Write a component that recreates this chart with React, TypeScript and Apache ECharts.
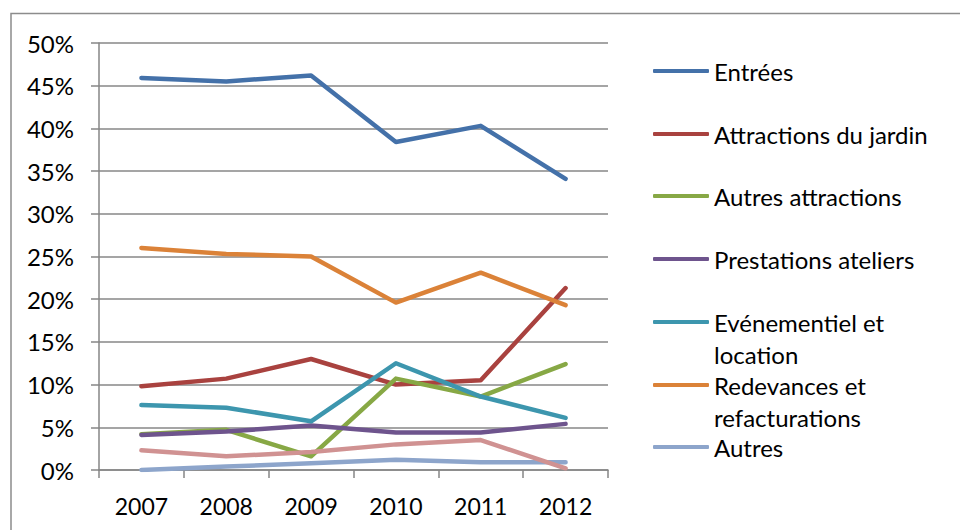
import React, { useEffect, useRef } from "react";
import * as echarts from "echarts";

const years = ["2007", "2008", "2009", "2010", "2011", "2012"];
const entrees = [45.9, 45.5, 46.2, 38.4, 40.3, 34.1];
const attractionsJardin = [9.8, 10.7, 13.0, 10.0, 10.5, 21.3];
const autresAttractions = [4.2, 4.7, 1.6, 10.7, 8.6, 12.4];
const prestationsAteliers = [4.1, 4.5, 5.2, 4.4, 4.4, 5.4];
const evenementiel = [7.6, 7.3, 5.7, 12.5, 8.6, 6.1];
const redevances = [26.0, 25.3, 25.0, 19.6, 23.1, 19.3];
const autres = [0.0, 0.4, 0.8, 1.2, 0.9, 0.9];
const divers = [2.3, 1.6, 2.1, 3.0, 3.5, 0.2];

const seriesNames = [
  "Entrées",
  "Attractions du jardin",
  "Autres attractions",
  "Prestations ateliers",
  "Evénementiel et location",
  "Redevances et refacturations",
  "Autres",
  "Divers",
];
const legendLabels = [
  "Entrées",
  "Attractions du jardin",
  "Autres attractions",
  "Prestations ateliers",
  "Evénementiel et\nlocation",
  "Redevances et\nrefacturations",
  "Autres",
];
const seriesData = [
  entrees,
  attractionsJardin,
  autresAttractions,
  prestationsAteliers,
  evenementiel,
  redevances,
  autres,
  divers,
];
const colors = [
  "#4471A9",
  "#A9423F",
  "#87A845",
  "#6E548D",
  "#3D96AE",
  "#DB8238",
  "#8DA5CB",
  "#D09292",
];
const legendCenters = [71, 134, 196, 259, 322, 385, 447];

const FONT = "Lato";

export default function App() {
  const ref = useRef<HTMLDivElement>(null);
  useEffect(() => {
    document.body.style.margin = "0";
    const chart = echarts.init(ref.current!, null, { renderer: "svg" });
    const LH = 32;
    const legends = legendLabels.map((label, i) => {
      const multi = label.includes("\n");
      const text = multi ? "\n" + label : label;
      return {
        show: true,
        orient: "vertical",
        left: 653,
        top: legendCenters[i] - (multi ? LH * 1.5 : LH / 2),
        padding: 0,
        data: [seriesNames[i]],
        icon: "roundRect",
        itemWidth: 56,
        itemHeight: 4,
        itemGap: 4,
        selectedMode: false,
        formatter: () => text,
        textStyle: {
          fontFamily: FONT,
          fontSize: 24,
          color: "#000",
          lineHeight: LH,
        },
      };
    });
    chart.setOption({
      animation: false,
      backgroundColor: "#fff",
      graphic: [
        {
          type: "rect",
          shape: { x: 11, y: 13.5, width: 1000, height: 600 },
          style: { fill: "none", stroke: "#8C8C8C", lineWidth: 1.5 },
          silent: true,
        },
      ],
      grid: { left: 99, top: 43, width: 509, height: 427 },
      legend: legends,
      xAxis: {
        type: "category",
        data: years,
        boundaryGap: true,
        axisLine: { show: true, lineStyle: { color: "#868686", width: 1.5 } },
        axisTick: { show: true, length: 8, lineStyle: { color: "#868686", width: 1.5 } },
        axisLabel: { fontFamily: FONT, fontSize: 23, color: "#000", margin: 24 },
      },
      yAxis: {
        type: "value",
        min: 0,
        max: 50,
        interval: 5,
        axisLine: { show: true, lineStyle: { color: "#868686", width: 1.5 } },
        axisTick: { show: true, length: 8, lineStyle: { color: "#868686", width: 1.5 } },
        splitLine: { show: true, lineStyle: { color: "#878787", width: 1.5 } },
        axisLabel: {
          fontFamily: FONT,
          fontSize: 24,
          color: "#000",
          margin: 25,
          formatter: "{value}%",
        },
      },
      series: seriesNames.map((name, i) => ({
        type: "line",
        name,
        data: seriesData[i],
        symbol: "none",
        color: colors[i],
        lineStyle: { width: 4.5, color: colors[i], cap: "round", join: "round" },
      })),
    });
    return () => chart.dispose();
  }, []);
  return <div ref={ref} style={{ width: 960, height: 530 }} />;
}
